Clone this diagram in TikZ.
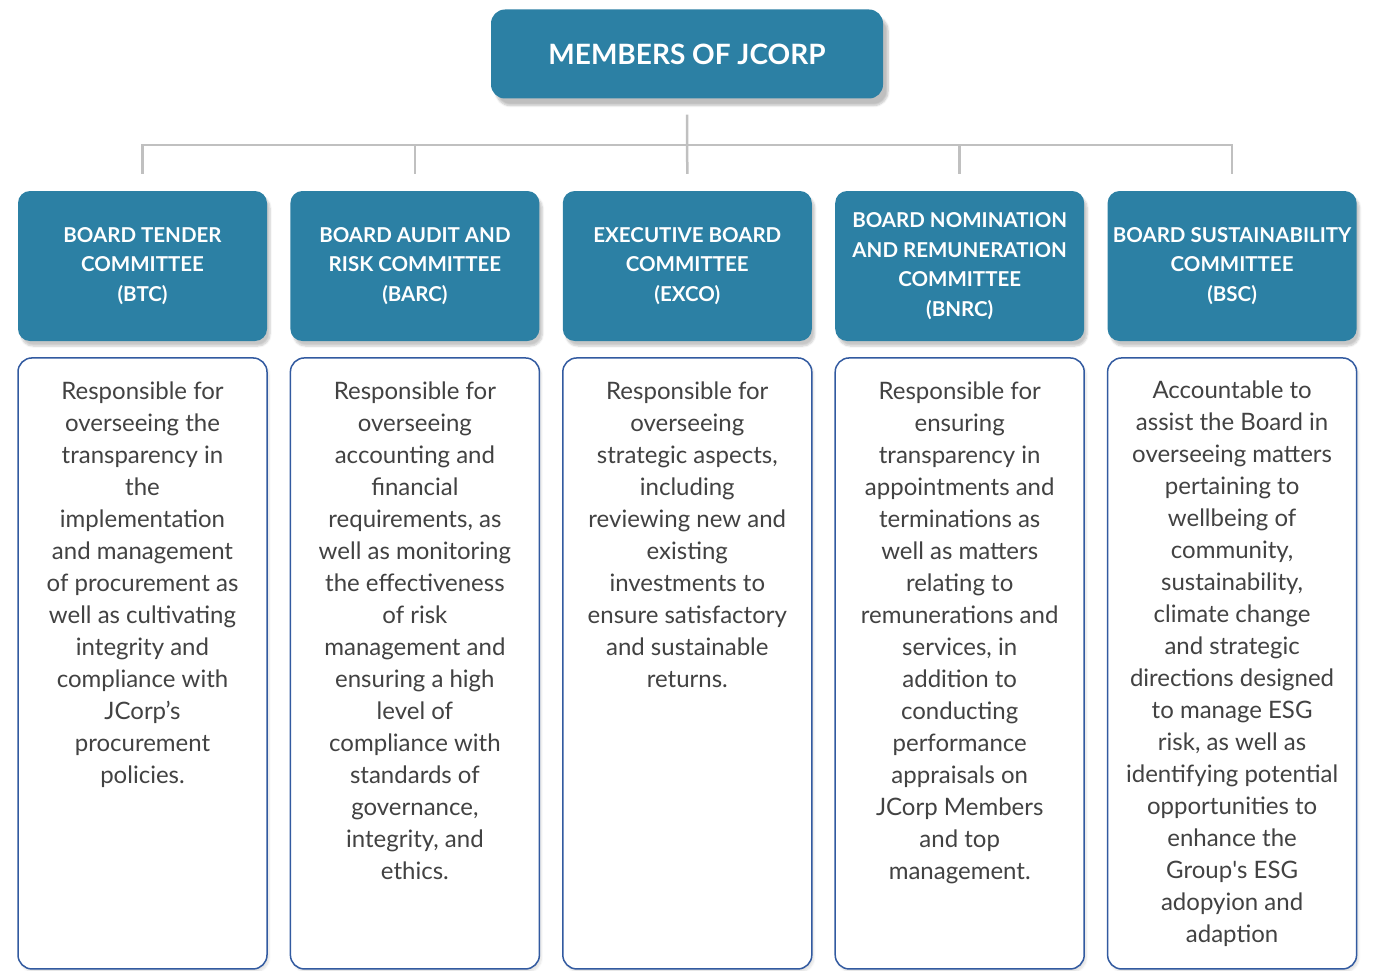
\documentclass[tikz,border=0pt]{standalone}
\usepackage{fontspec}
\setmainfont{Lato}
\usepackage{xcolor}
\usetikzlibrary{positioning,shadows.blur}
\definecolor{jblue}{RGB}{44,128,164}
\definecolor{jedge}{RGB}{50,90,160}
\definecolor{jline}{RGB}{192,192,192}
\definecolor{jtext}{RGB}{66,66,66}

\begin{document}
\begin{tikzpicture}[
		x=1pt, y=-1pt,
		head/.style={fill=jblue, rounded corners=12pt, text=white, align=center,
				minimum width=249pt, minimum height=150pt, inner sep=0pt,
				font=\fontsize{20.5}{29.5}\selectfont\bfseries,
				blur shadow={shadow xshift=3pt, shadow yshift=-5pt, shadow opacity=22, shadow blur steps=6}},
		desc/.style={draw=jedge, line width=1.5pt, fill=white, rounded corners=14pt,
				minimum width=249pt, minimum height=611pt, inner sep=0pt,
				blur shadow={shadow xshift=2pt, shadow yshift=-3pt, shadow opacity=12, shadow blur steps=6}},
		body/.style={align=center, inner sep=0pt, text=jtext,
				font=\fontsize{24}{32}\selectfont},
		link/.style={draw=jline, line width=2.5pt}
		]
		\useasboundingbox (0,0) rectangle (1373,971);
		% top box
		\node[fill=jblue, rounded corners=14pt, text=white, minimum width=392pt,
			minimum height=89pt, font=\fontsize{28}{32}\selectfont\bfseries,
			blur shadow={shadow xshift=5pt, shadow yshift=-7pt, shadow opacity=25, shadow blur steps=6}]
			(title) at (687,54) {MEMBERS OF JCORP};
		% committee row
		\node[head] (btc) at (142.5,266) {BOARD TENDER\\COMMITTEE\\(BTC)};
		\node[head, right=23pt of btc] (barc) {BOARD AUDIT AND\\RISK COMMITTEE\\(BARC)};
		\node[head, right=23pt of barc] (exco) {EXECUTIVE BOARD\\COMMITTEE\\(EXCO)};
		\node[head, right=23pt of exco] (bnrc) {BOARD NOMINATION\\AND REMUNERATION\\COMMITTEE\\(BNRC)};
		\node[head, right=23pt of bnrc] (bsc) {BOARD SUSTAINABILITY\\COMMITTEE\\(BSC)};
		% description boxes
		\node[desc, below=16pt of btc] (btcd) {};
		\node[desc, below=16pt of barc] (barcd) {};
		\node[desc, below=16pt of exco] (excod) {};
		\node[desc, below=16pt of bnrc] (bnrcd) {};
		\node[desc, below=16pt of bsc] (bscd) {};
		% description texts
		\node[body, below=24pt of btcd.north] (btct)
		{Responsible for\\overseeing the\\transparency in\\the\\implementation\\and management\\
			of procurement as\\well as cultivating\\integrity and\\compliance with\\JCorp’s\\procurement\\policies.};
		\node[body, below=24pt of barcd.north] (barct)
		{Responsible for\\overseeing\\accounting and\\financial\\requirements, as\\well as monitoring\\
			the effectiveness\\of risk\\management and\\ensuring a high\\level of\\compliance with\\
			standards of\\governance,\\integrity, and\\ethics.};
		\node[body, below=24pt of excod.north] (excot)
		{Responsible for\\overseeing\\strategic aspects,\\including\\reviewing new and\\existing\\
			investments to\\ensure satisfactory\\and sustainable\\returns.};
		\node[body, below=24pt of bnrcd.north] (bnrct)
		{Responsible for\\ensuring\\transparency in\\appointments and\\terminations as\\well as matters\\
			relating to\\remunerations and\\services, in\\addition to\\conducting\\performance\\
			appraisals on\\JCorp Members\\and top\\management.};
		\node[body, below=23pt of bscd.north] (bsct)
		{Accountable to\\assist the Board in\\overseeing matters\\pertaining to\\wellbeing of\\community,\\
			sustainability,\\climate change\\and strategic\\directions designed\\to manage ESG\\
			risk, as well as\\identifying potential\\opportunities to\\enhance the\\Group\textquotesingle s ESG\\
			adopyion and\\adaption};
		% connectors
		\draw[link] ([yshift=-16pt]title.south) -- ([yshift=17pt]exco.north);
		\draw[link] ([yshift=17pt]btc.north) -- ++(0,-29) -| ([yshift=17pt]bsc.north);
		\draw[link] ([yshift=17pt]barc.north) -- ++(0,-29);
		\draw[link] ([yshift=17pt]bnrc.north) -- ++(0,-29);
	\end{tikzpicture}
\end{document}
